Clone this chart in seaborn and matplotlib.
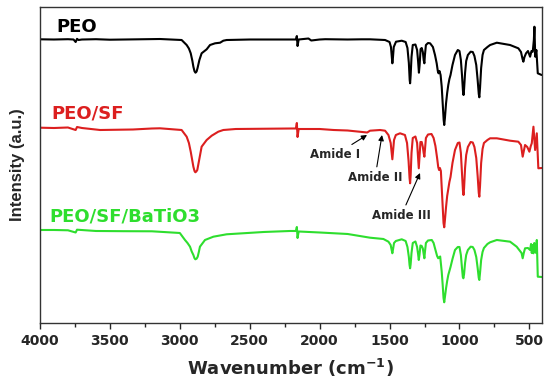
import matplotlib
matplotlib.use("Agg")
import matplotlib.pyplot as plt
import matplotlib.ticker as mtick
import pandas as pd
import seaborn as sns

# FTIR spectra: (wavenumber cm-1, stacked intensity a.u.)
peo_points = [
    (4000, 283.7), (3900, 283.5), (3800, 283.8), (3760, 283.5), (3745, 281.0),
    (3735, 284.2), (3725, 283.0), (3700, 283.5), (3600, 283.8), (3500, 283.3),
    (3400, 283.5), (3300, 283.6), (3142, 284.0), (2987, 283.0), (2951, 278.0),
    (2935, 274.5), (2922, 269.7), (2910, 262.0), (2903, 256.3), (2895, 251.8),
    (2888, 250.3), (2880, 251.5), (2873, 255.0), (2866, 259.5), (2860, 263.0),
    (2844, 269.7), (2808, 273.7), (2784, 278.0), (2748, 279.7), (2712, 280.3),
    (2689, 282.3), (2665, 283.0), (2500, 283.5), (2300, 283.5), (2170, 283.5),
    (2163, 287.0), (2158, 277.0), (2150, 283.5), (2080, 284.5), (2060, 282.5),
    (2000, 283.5), (1960, 283.8), (1800, 283.5), (1700, 283.7), (1640, 283.7),
    (1532, 283.0), (1500, 281.0), (1490, 276.0), (1484, 266.0), (1480, 259.7),
    (1476, 265.0), (1470, 276.0), (1454, 281.3), (1413, 282.3), (1385, 281.0),
    (1372, 275.0), (1362, 260.0), (1356, 243.0), (1353, 239.7), (1349, 248.0),
    (1343, 266.0), (1334, 278.0), (1315, 278.5), (1303, 273.0), (1296, 262.0),
    (1290, 250.3), (1285, 258.0), (1278, 274.0), (1270, 275.0), (1262, 271.0),
    (1256, 263.0), (1251, 259.7), (1247, 268.0), (1240, 278.0), (1225, 280.0),
    (1210, 279.7), (1190, 276.0), (1175, 268.0), (1163, 259.7), (1155, 252.0),
    (1150, 249.7), (1143, 252.0), (1135, 248.0), (1127, 236.3), (1120, 220.0),
    (1113, 203.0), (1109, 198.0), (1104, 205.0), (1096, 219.7), (1088, 230.0),
    (1080, 238.0), (1072, 244.0), (1064, 248.0), (1050, 258.0), (1032, 268.0),
    (1012, 273.0), (1000, 272.0), (990, 263.0), (982, 248.0), (975, 232.0),
    (971, 228.0), (967, 234.0), (960, 250.0), (952, 262.0), (940, 268.0),
    (920, 271.3), (905, 271.0), (893, 267.0), (880, 258.0), (870, 243.0),
    (862, 229.0), (858, 225.7), (853, 235.0), (845, 255.0), (835, 268.0),
    (825, 273.0), (800, 276.0), (781, 278.0), (733, 280.3), (638, 278.0),
    (579, 274.7), (560, 271.0), (549, 264.0), (543, 261.3), (535, 266.0),
    (524, 269.7), (510, 272.0), (495, 266.3), (485, 272.0), (476, 271.3),
    (468, 283.0), (464, 296.3), (458, 266.3), (450, 273.0), (440, 249.7),
    (412, 248.0),
]

sf_points = [
    (4000, 195.3), (3900, 195.0), (3800, 195.5), (3745, 193.0), (3735, 196.0),
    (3700, 195.0), (3570, 193.0), (3450, 193.3), (3335, 193.5), (3200, 194.5),
    (3142, 194.7), (2987, 193.0), (2951, 186.3), (2935, 180.0), (2922, 171.3),
    (2910, 162.0), (2903, 156.3), (2895, 152.0), (2889, 150.7), (2882, 151.5),
    (2875, 153.0), (2867, 159.0), (2860, 164.7), (2844, 176.3), (2808, 183.0),
    (2772, 187.3), (2725, 191.3), (2689, 193.0), (2600, 194.0), (2400, 194.3),
    (2200, 194.5), (2170, 194.5), (2163, 200.0), (2158, 186.0), (2150, 194.0),
    (2000, 194.0), (1900, 193.0), (1800, 192.5), (1700, 191.0), (1660, 190.5),
    (1640, 192.3), (1568, 193.0), (1532, 192.3), (1508, 188.0), (1492, 180.0),
    (1485, 170.0), (1480, 163.7), (1476, 170.0), (1468, 183.0), (1455, 188.0),
    (1425, 189.7), (1390, 188.0), (1375, 180.0), (1364, 162.0), (1357, 145.0),
    (1353, 139.7), (1349, 148.0), (1343, 170.0), (1334, 185.0), (1315, 186.5),
    (1303, 180.0), (1296, 166.0), (1291, 154.7), (1286, 165.0), (1279, 181.0),
    (1270, 181.0), (1262, 176.0), (1256, 170.0), (1251, 166.3), (1247, 173.0),
    (1240, 185.0), (1225, 188.5), (1200, 189.0), (1185, 185.0), (1172, 177.0),
    (1160, 165.0), (1152, 156.0), (1146, 153.0), (1140, 155.0), (1133, 152.0),
    (1127, 135.0), (1120, 115.0), (1114, 100.0), (1109, 95.7), (1104, 103.0),
    (1096, 116.0), (1088, 127.0), (1080, 134.0), (1072, 141.0), (1064, 146.0),
    (1050, 160.0), (1032, 173.0), (1012, 180.0), (1000, 180.5), (990, 170.0),
    (982, 150.0), (975, 132.0), (971, 128.0), (967, 135.0), (960, 155.0),
    (952, 168.0), (940, 176.0), (920, 181.0), (905, 180.5), (893, 176.0),
    (880, 165.0), (870, 147.0), (862, 130.0), (858, 126.3), (853, 137.0),
    (845, 160.0), (835, 174.0), (825, 180.0), (800, 183.0), (781, 184.7),
    (733, 184.7), (638, 182.3), (579, 181.3), (560, 178.0), (552, 170.0),
    (548, 166.3), (540, 172.0), (531, 178.0), (515, 176.0), (500, 171.3),
    (490, 177.0), (483, 179.7), (471, 196.3), (459, 173.0), (447, 189.7),
    (436, 154.7), (412, 155.0),
]

bt_points = [
    (4000, 93.0), (3900, 93.0), (3800, 92.7), (3745, 90.5), (3735, 93.3),
    (3600, 92.0), (3400, 91.8), (3200, 91.7), (3000, 90.0), (2963, 83.0),
    (2945, 80.0), (2927, 76.3), (2915, 71.5), (2903, 68.0), (2895, 64.8),
    (2889, 63.7), (2880, 64.3), (2872, 66.3), (2864, 71.0), (2856, 76.3),
    (2820, 83.0), (2760, 86.3), (2665, 88.7), (2400, 91.0), (2212, 92.0),
    (2170, 92.0), (2163, 96.0), (2158, 85.0), (2150, 91.5), (2000, 90.5),
    (1800, 89.0), (1640, 85.3), (1544, 84.0), (1508, 81.3), (1492, 78.0),
    (1485, 73.0), (1480, 69.7), (1476, 73.0), (1468, 80.0), (1455, 82.0),
    (1413, 83.7), (1385, 82.0), (1372, 76.0), (1362, 66.0), (1357, 58.0),
    (1353, 54.7), (1349, 59.0), (1343, 70.0), (1334, 80.0), (1315, 81.5),
    (1303, 76.0), (1296, 69.0), (1291, 63.0), (1286, 68.0), (1279, 77.5),
    (1270, 77.0), (1262, 74.5), (1256, 69.0), (1251, 64.7), (1247, 71.0),
    (1240, 80.0), (1225, 82.5), (1198, 83.0), (1185, 80.0), (1175, 74.7),
    (1160, 67.0), (1152, 64.7), (1145, 65.5), (1138, 66.5), (1127, 51.3),
    (1120, 38.0), (1114, 25.0), (1109, 20.7), (1104, 26.0), (1096, 34.7),
    (1088, 42.0), (1080, 48.0), (1072, 52.0), (1064, 56.0), (1050, 64.0),
    (1032, 73.0), (1012, 76.0), (1000, 76.0), (990, 68.0), (982, 55.0),
    (976, 46.0), (972, 44.7), (967, 49.0), (960, 60.0), (952, 68.0),
    (940, 73.0), (920, 76.3), (905, 76.0), (893, 73.0), (880, 66.0),
    (870, 55.0), (862, 45.0), (858, 43.0), (853, 50.0), (845, 63.0),
    (835, 71.0), (825, 75.0), (800, 79.0), (781, 80.7), (733, 83.0),
    (638, 81.3), (591, 76.3), (556, 70.0), (548, 64.7), (540, 70.0),
    (531, 74.7), (510, 75.0), (495, 73.0), (488, 79.0), (483, 70.0),
    (476, 78.0), (471, 69.7), (465, 80.0), (459, 78.0), (452, 70.0),
    (447, 83.0), (440, 46.3), (412, 46.0),
]

samples = ["PEO", "PEO/SF", "PEO/SF/BaTiO3"]
colors = {"PEO": "#000000", "PEO/SF": "#dc1f1f", "PEO/SF/BaTiO3": "#2ede2e"}
label_x = [3880, 3915, 3930]
label_y = [296, 210, 106]

frames = []
for name, pts in zip(samples, [peo_points, sf_points, bt_points]):
    wn, inten = zip(*pts)
    frames.append(pd.DataFrame({"wavenumber": wn, "intensity": inten, "sample": name}))
df = pd.concat(frames, ignore_index=True)

sns.set_style("ticks")
plt.rcParams['font.family'] = ['DejaVu Sans']
plt.rcParams['font.weight'] = 'bold'

fig = plt.figure(figsize=(5.5, 3.83), dpi=100)
ax = fig.add_axes([0.0727, 0.1567, 0.9127, 0.825])

sns.lineplot(data=df, x="wavenumber", y="intensity", hue="sample", palette=colors,
             estimator=None, sort=False, legend=False, lw=1.5, ax=ax)

ax.set_xlim(4000, 410)
ax.set_ylim(0, 316)
ax.set_xticks([4000, 3500, 3000, 2500, 2000, 1500, 1000, 500])
ax.xaxis.set_minor_locator(mtick.MultipleLocator(250))
ax.set_yticks([])
ax.tick_params(axis='x', which='major', direction='out', length=4, width=1,
               labelsize=10, pad=4)
ax.tick_params(axis='x', which='minor', direction='out', length=3, width=1)
for lab in ax.get_xticklabels():
    lab.set_fontweight('bold')
for sp in ax.spines.values():
    sp.set_visible(True)
    sp.set_linewidth(1.0)
    sp.set_color('#333333')

ax.set_xlabel("Wavenumber (cm$^{\\mathbf{-1}}$)", fontsize=13, fontweight='bold', labelpad=6)
ax.set_ylabel("Intensity (a.u.)", fontsize=12, fontweight='bold', labelpad=11,
              family=['Liberation Sans', 'DejaVu Sans'])

# sample labels
for name, lx, ly in zip(samples, label_x, label_y):
    ax.text(lx, ly, name, color=colors[name], fontsize=13, fontweight='bold',
            ha='left', va='center')

# amide band annotations
arrow = dict(arrowstyle='-|>', color='black', lw=0.8, mutation_scale=8,
             shrinkA=1, shrinkB=0)
ax.annotate("Amide I", xy=(1661, 188), xytext=(1890, 168), ha='center', va='center',
            fontsize=8.5, fontweight='bold', arrowprops=arrow)
ax.annotate("Amide II", xy=(1554, 188), xytext=(1604, 145), ha='center', va='center',
            fontsize=8.5, fontweight='bold', arrowprops=arrow)
ax.annotate("Amide III", xy=(1282, 150), xytext=(1418, 107), ha='center', va='center',
            fontsize=8.5, fontweight='bold', arrowprops=arrow)

fig.savefig("out.png", dpi=100)
